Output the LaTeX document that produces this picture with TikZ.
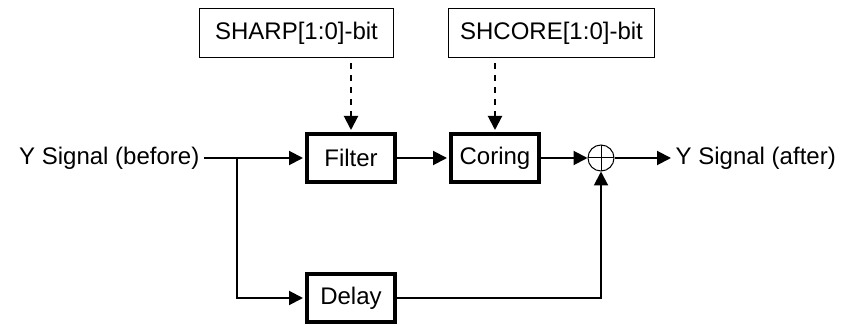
\documentclass[tikz,border=0pt]{standalone}
\usepackage{fontspec}
\setmainfont{Liberation Sans}
\usetikzlibrary{arrows.meta}

\tikzset{
  every node/.style={font=\fontsize{18}{22}\selectfont},
  blk/.style={draw, line width=3pt, minimum width=66pt, minimum height=36pt, inner sep=0pt},
  parbox/.style={draw, line width=0.75pt, minimum height=36.75pt, inner sep=0pt},
  sumnode/.style={draw, circle, line width=0.75pt, minimum size=19.5pt, inner sep=0pt,
    path picture={\draw[line width=0.75pt] (path picture bounding box.north) -- (path picture bounding box.south)
      (path picture bounding box.west) -- (path picture bounding box.east);}},
  sig/.style={line width=1.5pt, -{Triangle[length=10.5pt,width=10.5pt]}},
  ctl/.style={sig, dash pattern=on 4.5pt off 4.5pt, shorten <=4pt}
}

\begin{document}
\begin{tikzpicture}[x=0.75pt,y=-0.75pt]
\useasboundingbox (0,0) rectangle (842,327);

\node[parbox, minimum width=145.5pt] (sharp) at (296.5,33) {SHARP[1:0]-bit};
\node[parbox, minimum width=154.5pt] (shcore) at (551.5,33) {SHCORE[1:0]-bit};
\node[blk] (filter) at (351,158) {Filter};
\node[blk] (coring) at (495,158) {Coring};
\node[blk] (delay) at (351,298) {Delay};
\node[sumnode] (sum) at (601,158) {};
\node[anchor=east] (in) at (204,158) {Y Signal (before)};
\node[anchor=west] (out) at (671,158) {Y Signal (after)};
\coordinate (split) at (237,158);

\draw[sig, shorten >=1.5pt] (in.east) -- (filter.west);
\draw[sig, shorten >=1.5pt] (split) |- (delay.west);
\draw[sig, shorten >=1.5pt] (filter.east) -- (coring.west);
\draw[sig] (coring.east) -- (sum.west);
\draw[sig] (sum.east) -- (out.west);
\draw[sig] (delay.east) -| (sum.south);
\draw[ctl, shorten >=1.5pt] (sharp.south -| filter.north) -- (filter.north);
\draw[ctl, shorten >=1.5pt] (shcore.south -| coring.north) -- (coring.north);

\end{tikzpicture}
\end{document}
